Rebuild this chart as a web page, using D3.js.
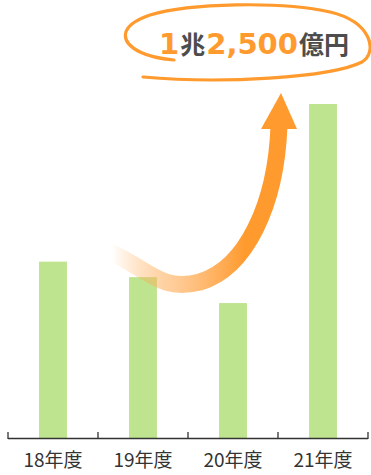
<!DOCTYPE html>
<html><head><meta charset="utf-8">
<script src="https://cdn.jsdelivr.net/npm/d3@7"></script>
<style>body{margin:0;background:#fff}svg{display:block}</style>
</head><body>
<script>
const categories = ["18年度","19年度","20年度","21年度"];
const values = [6600, 6020, 5050, 12500];
const titleParts = [["1","num"],["兆","unit"],["2,500","num"],["億円","unit"]];

const W=371,H=475;
const svg=d3.select("body").append("svg").attr("width",W).attr("height",H);
const x=d3.scaleBand().domain(categories).range([8,368]).paddingInner(0.69).paddingOuter(0.345);
const y=d3.scaleLinear().domain([0,12500]).range([438,104]);

svg.selectAll("rect.bar").data(values).join("rect").attr("class","bar")
  .attr("x",(d,i)=>x(categories[i])).attr("width",x.bandwidth())
  .attr("y",d=>y(d)).attr("height",d=>y(0)-y(d)).attr("fill","#bee48f");

// axis
const xb=d3.scaleBand().domain(categories).range([8,368]);
const ax=svg.append("g");
ax.append("line").attr("x1",8).attr("x2",368).attr("y1",438.5).attr("y2",438.5).attr("stroke","#333").attr("stroke-width",1.3);
const tickPos=categories.map(c=>xb(c)).concat([368]);
ax.selectAll("line.t").data(tickPos).join("line").attr("class","t")
  .attr("x1",d=>d).attr("x2",d=>d).attr("y1",432).attr("y2",439).attr("stroke","#333").attr("stroke-width",1.3);
ax.selectAll("text").data(categories).join("text")
  .attr("x",d=>xb(d)+xb.bandwidth()/2).attr("y",467).attr("text-anchor","middle")
  .attr("font-family","'Noto Sans CJK JP'").attr("font-size",19).attr("fill","#333").text(d=>d);

// arrow
const defs=svg.append("defs");
const g=defs.append("linearGradient").attr("id","ag").attr("gradientUnits","userSpaceOnUse")
  .attr("x1",112).attr("y1",0).attr("x2",245).attr("y2",0);
g.append("stop").attr("offset",0).attr("stop-color","#ff9a2e").attr("stop-opacity",0);
g.append("stop").attr("offset",0.45).attr("stop-color","#ffb870").attr("stop-opacity",0.7);
g.append("stop").attr("offset",1).attr("stop-color","#ff9a2e").attr("stop-opacity",1);
svg.append("path").attr("d","M108,251 C150,270 160,292 200,282 C246,268 276,205 279,126")
  .attr("fill","none").attr("stroke","url(#ag)").attr("stroke-width",17);
svg.append("path").attr("d","M261,129 L297,129 L281,93 Z").attr("fill","#ff9a2e");

// ellipse
svg.append("path").attr("d","M143,77 C220,84 330,78 362,62 C378,52 372,22 330,12 C280,1 190,3 150,15 C118,26 120,42 140,52 C150,57 163,59 174,60")
  .attr("fill","none").attr("stroke","#ff9a2e").attr("stroke-width",3.2).attr("stroke-linecap","round");

// title
const t=svg.append("text").attr("x",159).attr("y",54).attr("font-weight","bold");
t.selectAll("tspan").data(titleParts).join("tspan")
  .attr("font-family",d=>d[1]==="num"?"'DejaVu Sans'":"'Noto Sans CJK JP'")
  .attr("font-size",d=>d[1]==="num"?29:25)
  .attr("dx",(d,i)=>i===0?0:1)
  .attr("fill",d=>d[1]==="num"?"#ff9a2e":"#4d4d4d").text(d=>d[0]);
</script>
</body></html>
